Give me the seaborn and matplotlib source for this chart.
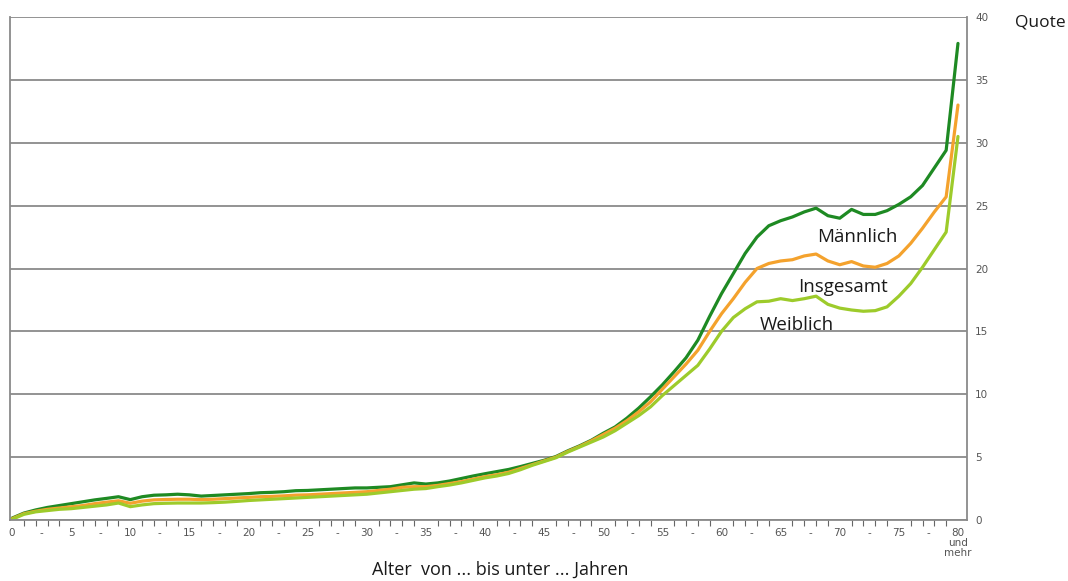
import numpy as np
import pandas as pd
import matplotlib
matplotlib.use("Agg")
import matplotlib.pyplot as plt
import seaborn as sns

alter = list(range(0, 81))

maennlich = [0.15, 0.55, 0.8, 1.0, 1.15, 1.3, 1.45, 1.6, 1.72, 1.85,
             1.62, 1.85, 1.97, 2.0, 2.05, 2.0, 1.9, 1.95, 2.0, 2.05,
             2.1, 2.17, 2.2, 2.25, 2.33, 2.35, 2.4, 2.45, 2.5, 2.55,
             2.55, 2.6, 2.65, 2.8, 2.95, 2.86, 2.95, 3.1, 3.3, 3.5,
             3.68, 3.85, 4.02, 4.25, 4.5, 4.75, 5.05, 5.5, 5.9, 6.35,
             6.9, 7.4, 8.1, 8.9, 9.8, 10.75, 11.8, 12.9, 14.3, 16.2,
             18.0, 19.6, 21.2, 22.5, 23.4, 23.8, 24.1, 24.5, 24.8, 24.2,
             24.0, 24.7, 24.3, 24.3, 24.6, 25.1, 25.7, 26.6, 28.0, 29.4,
             37.9]

insgesamt = [0.1, 0.5, 0.7, 0.85, 0.95, 1.05, 1.15, 1.3, 1.42, 1.53,
             1.33, 1.5, 1.6, 1.63, 1.65, 1.65, 1.62, 1.65, 1.7, 1.75,
             1.8, 1.85, 1.88, 1.92, 1.98, 2.0, 2.05, 2.1, 2.15, 2.2,
             2.25, 2.35, 2.45, 2.6, 2.65, 2.65, 2.75, 2.9, 3.05, 3.25,
             3.45, 3.6, 3.8, 4.1, 4.4, 4.7, 5.0, 5.45, 5.85, 6.3,
             6.8, 7.3, 7.9, 8.6, 9.4, 10.4, 11.4, 12.4, 13.5, 15.0,
             16.4, 17.6, 18.9, 20.0, 20.4, 20.6, 20.7, 21.0, 21.15, 20.6,
             20.3, 20.55, 20.2, 20.1, 20.4, 21.0, 22.0, 23.2, 24.5, 25.7,
             33.0]

weiblich = [0.05, 0.45, 0.65, 0.75, 0.85, 0.9, 1.0, 1.1, 1.2, 1.35,
            1.06, 1.2, 1.3, 1.33, 1.35, 1.35, 1.35, 1.38, 1.42, 1.48,
            1.55, 1.6, 1.65, 1.7, 1.75, 1.8, 1.85, 1.9, 1.95, 2.0,
            2.05, 2.15, 2.25, 2.35, 2.45, 2.5, 2.65, 2.78, 2.95, 3.15,
            3.35, 3.5, 3.7, 4.0, 4.35, 4.65, 4.95, 5.4, 5.8, 6.2,
            6.6, 7.1, 7.7, 8.3, 9.0, 9.9, 10.7, 11.5, 12.3, 13.6,
            15.0, 16.1, 16.8, 17.35, 17.4, 17.6, 17.45, 17.6, 17.8, 17.15,
            16.85, 16.7, 16.6, 16.65, 16.95, 17.8, 18.8, 20.1, 21.5, 22.9,
            30.5]

# x tick labels: every 2.5 years, "-" in between
tick_pos = [i * 2.5 for i in range(33)]
tick_lab = []
for i in range(33):
    if i % 2 == 1:
        tick_lab.append("-")
    elif i == 32:
        tick_lab.append("80\nund\nmehr")
    else:
        tick_lab.append(str(int(i * 2.5)))

df = pd.DataFrame({"Alter": alter * 3,
                   "Quote": maennlich + insgesamt + weiblich,
                   "Gruppe": ["Männlich"] * 81 + ["Insgesamt"] * 81 + ["Weiblich"] * 81})

sns.set_style("white")
plt.rcParams['font.family'] = ['Open Sans', 'DejaVu Sans']
plt.rcParams['text.color'] = "#1a1a1a"

fig = plt.figure(figsize=(10.68, 5.81), dpi=100)
ax = fig.add_axes([0.0094, 0.105, 0.896, 0.8657])

farben = {"Männlich": "#1e8a23", "Insgesamt": "#f4a22d", "Weiblich": "#9dcb2b"}
sns.lineplot(data=df, x="Alter", y="Quote", hue="Gruppe", palette=farben,
             linewidth=2.3, legend=False, ax=ax)

ax.set_xlim(-0.17, 80.76)
ax.set_ylim(0, 40)

# gridlines every 5
ax.set_yticks(range(0, 41, 5))
ax.yaxis.grid(True, color="#8a8a8a", linewidth=1.3)
ax.set_axisbelow(True)
ax.yaxis.tick_right()
ax.tick_params(axis="y", length=0, pad=6, labelsize=7.5, labelcolor="#555555")

ax.set_xticks(tick_pos)
ax.set_xticklabels(tick_lab, fontsize=7.5, color="#555555", linespacing=0.95,
                   family="DejaVu Sans")
ax.set_xticks(alter, minor=True)
ax.tick_params(axis="x", which="major", length=0, pad=6)
ax.tick_params(axis="x", which="minor", length=4, width=0.8, color="#666666",
               direction="out", bottom=True)
for lab in ax.get_yticklabels():
    lab.set_family("DejaVu Sans")

for s in ["left", "right", "bottom", "top"]:
    ax.spines[s].set_color("#8a8a8a")
    ax.spines[s].set_linewidth(1.3)
ax.spines["top"].set_visible(False)

ax.set_xlabel("")
ax.set_ylabel("")
fig.text(0.468, 0.019, "Alter  von ... bis unter ... Jahren", fontsize=13,
         ha="center", va="center")

ax.text(71.5, 22.5, "Männlich", fontsize=13.5, ha="center", va="center")
ax.text(70.3, 18.5, "Insgesamt", fontsize=13.5, ha="center", va="center")
ax.text(66.4, 15.5, "Weiblich", fontsize=13.5, ha="center", va="center")

fig.text(0.95, 0.962, "Quote", fontsize=12.5, ha="left", va="center")

fig.savefig("out.png", dpi=100)
